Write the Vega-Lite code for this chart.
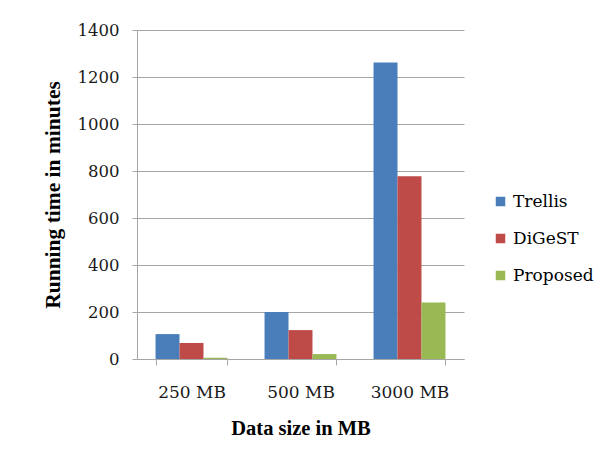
{
  "$schema": "https://vega.github.io/schema/vega-lite/v6.json",
  "autosize": {"type": "none"},
  "padding": {"left": 137, "top": 30, "right": 143, "bottom": 108},
  "width": 327,
  "height": 329,
  "background": "white",
  "config": {
    "font": "Liberation Serif",
    "view": {"stroke": null},
    "axis": {"labelColor": "#1a1a1a", "titleColor": "#000000"}
  },
  "data": {
    "values": [
      {"size": "250 MB", "method": "Trellis", "minutes": 106},
      {"size": "250 MB", "method": "DiGeST", "minutes": 68},
      {"size": "250 MB", "method": "Proposed", "minutes": 5},
      {"size": "500 MB", "method": "Trellis", "minutes": 200},
      {"size": "500 MB", "method": "DiGeST", "minutes": 123},
      {"size": "500 MB", "method": "Proposed", "minutes": 21},
      {"size": "3000 MB", "method": "Trellis", "minutes": 1262},
      {"size": "3000 MB", "method": "DiGeST", "minutes": 778},
      {"size": "3000 MB", "method": "Proposed", "minutes": 240}
    ]
  },
  "mark": {"type": "bar"},
  "encoding": {
    "x": {
      "field": "size",
      "type": "nominal",
      "sort": ["250 MB", "500 MB", "3000 MB"],
      "scale": {"paddingInner": 0.34, "paddingOuter": 0.17},
      "axis": {
        "title": "Data size in MB",
        "titleFont": "Liberation Serif",
        "titleFontSize": 20.5,
        "titleFontWeight": "bold",
        "titlePadding": 18,
        "labelFont": "DejaVu Serif",
        "labelFontSize": 17,
        "labelAngle": 0,
        "labelPadding": 19,
        "tickBand": "extent",
        "tickSize": 6,
        "tickColor": "#a6a6a6",
        "domainColor": "#a6a6a6",
        "grid": false
      }
    },
    "xOffset": {
      "field": "method",
      "type": "nominal",
      "sort": ["Trellis", "DiGeST", "Proposed"],
      "scale": {"paddingInner": 0, "paddingOuter": 0}
    },
    "y": {
      "field": "minutes",
      "type": "quantitative",
      "scale": {"domain": [0, 1400]},
      "axis": {
        "title": "Running time in minutes",
        "titleFont": "Liberation Serif",
        "titleFontSize": 21.5,
        "titleFontWeight": "bold",
        "titlePadding": 13,
        "labelFont": "DejaVu Serif",
        "labelFontSize": 16.5,
        "labelPadding": 13,
        "format": "d",
        "values": [0, 200, 400, 600, 800, 1000, 1200, 1400],
        "tickSize": 5,
        "tickColor": "#a6a6a6",
        "domainColor": "#a6a6a6",
        "gridColor": "#a6a6a6",
        "gridWidth": 1
      }
    },
    "color": {
      "field": "method",
      "type": "nominal",
      "sort": ["Trellis", "DiGeST", "Proposed"],
      "scale": {"domain": ["Trellis", "DiGeST", "Proposed"], "range": ["#4A7EBB", "#BE4B48", "#98B954"]},
      "legend": {
        "title": null,
        "orient": "none",
        "legendX": 355,
        "legendY": 163,
        "symbolType": "square",
        "symbolSize": 90,
        "symbolStrokeWidth": 0,
        "labelFont": "DejaVu Serif",
        "labelFontSize": 17,
        "labelColor": "#000000",
        "labelOffset": 4,
        "rowPadding": 19
      }
    }
  }
}
